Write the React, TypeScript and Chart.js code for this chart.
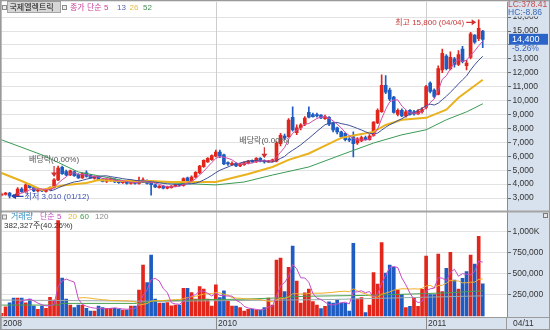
import React, { useEffect, useRef } from 'react';
import { Chart, registerables } from 'chart.js';

Chart.register(...registerables);

// ---------------- data ----------------
const START_DATE = '2008-12-29';
const FUTURE_SLOTS = 6;

const opens = [
  3200, 3250, 3350, 3200, 3150, 3650, 3450, 3950, 3750, 3500,
  3580, 3480, 3600, 3750, 4300, 5200, 4900, 4650, 4900, 4700,
  4450, 4800, 4650, 4400, 4500, 4350, 4200, 4250, 4350, 4200,
  4100, 4200, 4050, 4150, 4050, 4150, 4250, 4100, 3950, 3750,
  3850, 3700, 3750, 3850, 3950, 3900, 4450, 4250, 4500, 4800,
  5250, 5600, 5750, 6000, 6300, 6100, 5550, 5400, 5500, 5300,
  5400, 5500, 5700, 5600, 5850, 5700, 5600, 5650, 5650, 6900,
  7450, 7400, 8800, 7700, 8050, 8300, 9150, 9000, 9000, 8950,
  8700, 8800, 8400, 8050, 7750, 7650, 7250, 7400, 6950, 7100,
  7350, 7200, 7500, 8400, 9200, 11100, 10750, 10250, 9000, 9300,
  8900, 9300, 9200, 9050, 9200, 9500, 11250, 10750, 10450, 12200,
  13200, 12300, 13000, 12600, 13700, 12500, 13100, 14700, 14450, 15000,
];
const highs = [
  3350, 3400, 3400, 3250, 3750, 3750, 4050, 4000, 3800, 3650,
  3620, 3650, 3800, 4400, 5300, 5300, 5000, 5000, 4950, 4750,
  4800, 4950, 4700, 4600, 4550, 4400, 4400, 4450, 4400, 4250,
  4250, 4250, 4200, 4200, 4500, 4450, 4300, 4150, 4000, 3900,
  3900, 3850, 3900, 4000, 4000, 4450, 4500, 4600, 4900, 5350,
  5750, 5900, 6100, 6450, 6450, 6150, 5600, 5600, 5550, 5500,
  5600, 5700, 5750, 5900, 5900, 5750, 5700, 5800, 7050, 7650,
  7600, 8700, 9550, 8250, 8350, 8850, 9550, 9100, 9100, 9000,
  8950, 8850, 8450, 8100, 7800, 7700, 7350, 7750, 7350, 7450,
  7450, 7550, 8500, 9400, 11850, 11800, 10900, 10300, 9400, 9400,
  9300, 9350, 9300, 9350, 9500, 11100, 11350, 10850, 12500, 13700,
  13300, 13500, 13100, 13600, 13900, 12900, 14900, 14750, 15800, 15050,
];
const lows = [
  3150, 3200, 3010, 3050, 3100, 3400, 3400, 3700, 3450, 3450,
  3450, 3420, 3550, 3700, 4250, 4700, 4600, 4600, 4550, 4400,
  4400, 4500, 4400, 4350, 4250, 4150, 4100, 4200, 4100, 4050,
  4050, 4000, 4000, 4000, 4000, 4100, 4000, 3200, 3750, 3700,
  3650, 3650, 3700, 3800, 3850, 3850, 4200, 4200, 4450, 4750,
  5200, 5550, 5700, 5950, 5900, 5400, 5350, 5350, 5250, 5250,
  5350, 5450, 5550, 5550, 5600, 5500, 5550, 5600, 5600, 6750,
  7200, 7350, 7800, 7550, 7900, 8200, 8750, 8800, 8800, 8700,
  8650, 8200, 7750, 7600, 7300, 7100, 7050, 5950, 6850, 7050,
  7150, 7150, 7450, 8350, 9150, 10500, 10000, 9100, 8900, 8850,
  8800, 8950, 8950, 9000, 9100, 9400, 10550, 10200, 10400, 12000,
  12200, 12200, 12400, 12500, 12700, 12200, 13000, 14100, 14300, 13800,
];
const closes = [
  3280, 3350, 3150, 3120, 3650, 3450, 3950, 3750, 3500, 3580,
  3500, 3600, 3750, 4300, 5150, 4750, 4650, 4950, 4600, 4450,
  4750, 4550, 4450, 4550, 4300, 4200, 4350, 4400, 4150, 4100,
  4200, 4050, 4150, 4050, 4250, 4300, 4050, 3950, 3800, 3850,
  3700, 3800, 3850, 3950, 3900, 4400, 4250, 4500, 4850, 5300,
  5700, 5850, 6050, 6300, 6000, 5450, 5450, 5500, 5300, 5450,
  5550, 5650, 5600, 5850, 5650, 5600, 5650, 5750, 6950, 7500,
  7300, 8600, 7900, 8050, 8250, 8750, 8800, 8850, 8900, 8750,
  8850, 8300, 7900, 7750, 7400, 7200, 7150, 6900, 7250, 7350,
  7200, 7450, 8450, 9300, 11100, 10600, 10100, 9150, 9300, 8900,
  9200, 9000, 9050, 9250, 9350, 11000, 10650, 10300, 12300, 13400,
  12300, 13100, 12600, 13300, 12800, 12700, 14800, 14200, 15200, 14400,
];
const volumes = [
  32000, 110000, 158000, 214000, 214000, 214000, 158000, 200000, 117000, 79000,
  117000, 90000, 222000, 190000, 1135000, 450000, 200000, 130000, 100000, 130000,
  130000, 90000, 60000, 60000, 117000, 100000, 90000, 90000, 90000, 80000,
  70000, 70000, 117000, 117000, 310000, 607000, 397000, 726000, 200000, 155000,
  155000, 160000, 120000, 130000, 130000, 330000, 330000, 280000, 200000, 350000,
  320000, 200000, 117000, 370000, 220000, 300000, 180000, 117000, 117000, 100000,
  60000, 80000, 80000, 70000, 70000, 100000, 214000, 130000, 667000, 690000,
  290000, 580000, 833000, 417000, 155000, 277000, 321000, 172000, 131000, 88000,
  115000, 170000, 155000, 190000, 155000, 155000, 60000, 866000, 200000, 220000,
  40000, 131000, 517000, 380000, 873000, 510000, 607000, 580000, 310000, 255000,
  100000, 115000, 215000, 115000, 318000, 714000, 255000, 255000, 738000, 290000,
  567000, 758000, 429000, 321000, 448000, 528000, 726000, 619000, 949645, 382327,
];

// moving-average lines (they depend on history before the first candle)
const ma26Idx = [0, 5, 10, 13, 16, 21, 24, 29, 37, 42, 53, 61, 67, 71, 76, 84, 88, 92, 95, 99, 105, 110, 113, 119];
const ma26Val = [4800, 4220, 3580, 3800, 3940, 4080, 4300, 4220, 4220, 4150, 4150, 4730, 5230, 5740, 6200, 7320, 7540, 7750, 8250, 8620, 8760, 9340, 10200, 11500];
const ma52Idx = [0, 10, 19, 32, 42, 53, 60, 67, 76, 84, 92, 99, 105, 110, 115, 119];
const ma52Val = [7180, 6100, 4870, 4150, 4080, 3940, 4150, 4650, 5230, 6100, 6950, 7540, 7900, 8620, 9190, 9770];
const vma60Idx = [0, 14, 15, 34, 38, 50, 60, 68, 75, 90, 100, 110, 119];
const vma60Val = [130000, 130000, 150000, 150000, 180000, 195000, 200000, 215000, 235000, 245000, 260000, 275000, 300000];
const vma120Idx = [0, 40, 80, 119];
const vma120Val = [190000, 175000, 195000, 240000];

const exDividendDates = ['2009/03/30', '2010/03/29'];
const priceTicks = [3000, 4000, 5000, 6000, 7000, 8000, 9000, 10000, 11000, 12000, 13000, 14000, 15000, 16000];
const volumeTicks = [250000, 500000, 750000, 1000000];
const stockName = '국제엘렉트릭';
const lcText = 'LC:378.41';
const hcText = 'HC:-8.86';

// ---------------- helpers ----------------
const FONT = '"Liberation Sans", "Noto Sans CJK KR", sans-serif';
const UP = '#e2261c';
const DOWN = '#1f5cc2';
const AXIS_BG = '#d8e2ee';
const PRICE_MIN = 2066;
const PRICE_MAX = 17084;
const VOL_MIN = -11905;
const VOL_MAX = 1250000;

const pad2 = (n: number) => String(n).padStart(2, '0');
function weekLabels(): string[] {
  const t0 = Date.parse(START_DATE + 'T00:00:00Z');
  const out: string[] = [];
  for (let i = 0; i < closes.length + FUTURE_SLOTS; i++) {
    const d = new Date(t0 + i * 7 * 86400000);
    out.push(`${d.getUTCFullYear()}/${pad2(d.getUTCMonth() + 1)}/${pad2(d.getUTCDate())}`);
  }
  return out;
}
function sma(src: number[], n: number): (number | null)[] {
  return src.map((_, i) => {
    if (i < n - 1) return null;
    let s = 0;
    for (let k = i - n + 1; k <= i; k++) s += src[k];
    return s / n;
  });
}
const fmt = (v: number) => Math.round(v).toLocaleString('en-US');

function txt(ctx: CanvasRenderingContext2D, s: string, x: number, y: number, color: string, size = 8, align: CanvasTextAlign = 'left') {
  ctx.font = `${size}px ${FONT}`;
  ctx.fillStyle = color;
  ctx.textAlign = align;
  ctx.textBaseline = 'middle';
  ctx.fillText(s, x, y);
}
function legendSquare(ctx: CanvasRenderingContext2D, x: number, y: number) {
  ctx.fillStyle = '#8c8c8c';
  ctx.fillRect(x, y, 5, 5);
  ctx.fillStyle = '#ececec';
  ctx.fillRect(x + 1, y + 1, 3, 3);
}

export default function App() {
  const ref = useRef<HTMLCanvasElement>(null);

  useEffect(() => {
    document.body.style.margin = '0';
    const canvas = ref.current;
    if (!canvas) return;

    const labels = weekLabels();
    const n = closes.length;
    const candleColor = closes.map((c, i) => (c >= opens[i] ? UP : DOWN));
    const volColor = closes.map((c, i) => (i === 0 || c >= closes[i - 1] ? UP : DOWN));
    const knots = (idx: number[], val: number[]) => idx.map((k, j) => ({ x: labels[k], y: val[j] }));

    const hiIdx = highs.indexOf(Math.max(...highs));
    const loIdx = lows.indexOf(Math.min(...lows));
    const mmdd = (i: number) => labels[i].slice(5);
    const divIdx = exDividendDates.map((d) => labels.indexOf(d)).filter((i) => i >= 0);

    // year marks on the date strip
    const yearMarks: number[] = [];
    for (let i = 0; i < n; i++) {
      const y = labels[i].slice(0, 4);
      if (i === 0 || y !== labels[i - 1].slice(0, 4)) {
        const prev = yearMarks[yearMarks.length - 1];
        if (prev === undefined || i - prev >= 20) yearMarks.push(i);
      }
    }

    const line = (data: any[], color: string, width: number, axis: string) => ({
      type: 'line' as const,
      data,
      borderColor: color,
      borderWidth: width,
      pointRadius: 0,
      fill: false,
      tension: 0,
      spanGaps: true,
      yAxisID: axis,
      order: 0,
    });

    const deco = {
      id: 'deco',
      beforeDraw(chart: any) {
        const { ctx, chartArea: a, width, height } = chart;
        ctx.save();
        ctx.fillStyle = '#ffffff';
        ctx.fillRect(0, 0, width, height);
        ctx.fillStyle = AXIS_BG;
        ctx.fillRect(a.right, 0, width - a.right, height);
        ctx.fillRect(0, a.bottom, width, height - a.bottom);
        ctx.restore();
      },
      beforeDatasetsDraw(chart: any) {
        const { ctx, chartArea: a } = chart;
        const xs = chart.scales.x;
        ctx.save();
        ctx.strokeStyle = '#cdcdcd';
        ctx.lineWidth = 1;
        yearMarks.forEach((i) => {
          if (i === 0) return;
          const px = Math.round(xs.getPixelForValue(i)) + 0.5;
          ctx.beginPath();
          ctx.moveTo(px, a.top);
          ctx.lineTo(px, a.bottom);
          ctx.stroke();
        });
        ctx.restore();
      },
      afterDraw(chart: any) {
        const { ctx, chartArea: a, width, height } = chart;
        const xs = chart.scales.x;
        const ys = chart.scales.y;
        const yv = chart.scales.yv;
        ctx.save();

        // panel separator
        ctx.fillStyle = '#a4a4a4';
        ctx.fillRect(0, yv.top - 0.5, width, 2);
        // bottom strip
        ctx.fillStyle = '#9a9a9a';
        ctx.fillRect(0, a.bottom, width, 1);
        ctx.fillRect(a.right - 1, a.bottom, 1, height - a.bottom);
        ctx.strokeStyle = '#8a8a8a';
        yearMarks.forEach((i) => {
          const px = Math.round(xs.getPixelForValue(i)) + 0.5;
          if (i !== 0) {
            ctx.beginPath();
            ctx.moveTo(px, a.bottom);
            ctx.lineTo(px, height);
            ctx.stroke();
          }
          txt(ctx, labels[i].slice(0, 4), i === 0 ? 3 : px + 1.5, a.bottom + 7, '#333', 8.5);
        });
        txt(ctx, mmdd(n - 1), a.right + 6, a.bottom + 7, '#333', 8.5);

        // legend (price)
        legendSquare(ctx, 2, 5);
        ctx.fillStyle = '#d6d6d6';
        ctx.fillRect(7.5, 1.5, 53, 11);
        ctx.strokeStyle = '#a6a6a6';
        ctx.strokeRect(7.5, 1.5, 53, 11);
        txt(ctx, stockName, 9.5, 7.5, '#111', 8);
        legendSquare(ctx, 62, 5);
        txt(ctx, '종가 단순 5', 70, 7.5, '#c8409c', 8);
        txt(ctx, '13', 117, 7.5, '#5664a8', 8);
        txt(ctx, '26', 129.5, 7.5, '#e2bd45', 8);
        txt(ctx, '52', 143, 7.5, '#3f9050', 8);

        // legend (volume)
        const ly = yv.top + 6;
        legendSquare(ctx, 2, ly - 2.5);
        txt(ctx, '거래량', 11, ly, '#2f8cc0', 8);
        txt(ctx, '단순 5', 40, ly, '#c04cc0', 8);
        txt(ctx, '20', 68, ly, '#e8b830', 8);
        txt(ctx, '60', 80, ly, '#3c9a4c', 8);
        txt(ctx, '120', 95, ly, '#8a8a8a', 8);
        const lastVol = volumes[n - 1];
        const ratio = (lastVol / volumes[n - 2]) * 100;
        txt(ctx, `${fmt(lastVol)}주(${ratio.toFixed(2)}%)`, 4, ly + 9, '#333', 8);

        // icon
        ctx.fillStyle = '#7a7a7a';
        ctx.fillRect(width - 7, yv.top + 2, 5, 5);
        ctx.fillStyle = '#e6e6e6';
        ctx.fillRect(width - 6, yv.top + 3, 3, 3);

        // highest
        const hx = xs.getPixelForValue(hiIdx) - 2.5;
        const hy = ys.getPixelForValue(highs[hiIdx]) + 2.5;
        ctx.strokeStyle = '#d03030';
        ctx.fillStyle = '#d03030';
        ctx.lineWidth = 1.2;
        ctx.beginPath();
        ctx.moveTo(hx - 10, hy);
        ctx.lineTo(hx - 3, hy);
        ctx.stroke();
        ctx.beginPath();
        ctx.moveTo(hx, hy);
        ctx.lineTo(hx - 4.5, hy - 3);
        ctx.lineTo(hx - 4.5, hy + 3);
        ctx.closePath();
        ctx.fill();
        txt(ctx, `최고 ${fmt(highs[hiIdx])} (${mmdd(hiIdx)})`, hx - 12, hy, '#c83838', 8, 'right');

        // lowest
        const lx = xs.getPixelForValue(loIdx) + 2;
        const lyy = ys.getPixelForValue(lows[loIdx]) - 1.5;
        ctx.strokeStyle = '#2a3fa8';
        ctx.fillStyle = '#2a3fa8';
        ctx.beginPath();
        ctx.moveTo(lx + 3, lyy);
        ctx.lineTo(lx + 12, lyy);
        ctx.stroke();
        ctx.beginPath();
        ctx.moveTo(lx, lyy);
        ctx.lineTo(lx + 4.5, lyy - 3);
        ctx.lineTo(lx + 4.5, lyy + 3);
        ctx.closePath();
        ctx.fill();
        txt(ctx, `최저 ${fmt(lows[loIdx])} (${mmdd(loIdx)})`, lx + 13, lyy, '#3a4fb0', 8);

        // ex-dividend markers
        divIdx.forEach((i) => {
          const ax = xs.getPixelForValue(i);
          const tip = ys.getPixelForValue(highs[i]) - 1.5;
          ctx.strokeStyle = '#d03030';
          ctx.fillStyle = '#d03030';
          ctx.lineWidth = 1.2;
          ctx.beginPath();
          ctx.moveTo(ax, tip - 11);
          ctx.lineTo(ax, tip - 4);
          ctx.stroke();
          ctx.beginPath();
          ctx.moveTo(ax, tip);
          ctx.lineTo(ax - 3, tip - 4.5);
          ctx.lineTo(ax + 3, tip - 4.5);
          ctx.closePath();
          ctx.fill();
          txt(ctx, '배당락(0.00%)', ax, tip - 17, '#555', 8, 'center');
        });

        // right axis info
        ctx.fillStyle = AXIS_BG;
        ctx.fillRect(a.right + 1, 0, width - a.right - 1, 16.5);
        txt(ctx, lcText, a.right + 1, 5, '#c84848', 8.5);
        txt(ctx, hcText, a.right + 1, 13, '#3a6ab4', 8.5);
        const last = closes[n - 1];
        const py = ys.getPixelForValue(last);
        ctx.fillStyle = '#2a64c8';
        ctx.fillRect(a.right + 2, py - 5.5, width - a.right - 4, 11);
        txt(ctx, fmt(last), a.right + 5, py, '#ffffff', 9);
        ctx.fillStyle = AXIS_BG;
        ctx.fillRect(a.right + 1, py + 5.5, width - a.right - 2, 8.5);
        const chg = ((last / closes[n - 2]) - 1) * 100;
        txt(ctx, `${chg.toFixed(2)}%`, a.right + 5, py + 9.5, '#3a66b8', 8.5);

        // frame
        ctx.fillStyle = '#7a7a7a';
        ctx.fillRect(0, 0, 1.5, height);
        ctx.fillRect(0, 0, width, 1.2);
        ctx.strokeStyle = '#9a9a9a';
        ctx.lineWidth = 1;
        ctx.strokeRect(0.5, 0.5, width - 1, height - 1);
        ctx.restore();
      },
    };

    const yAxis = (weight: number, min: number, max: number, ticks: number[], label: (v: number) => string) => ({
      type: 'linear',
      position: 'right',
      stack: 'panes',
      stackWeight: weight,
      min,
      max,
      afterBuildTicks: (s: any) => {
        s.ticks = ticks.map((v) => ({ value: v }));
      },
      afterFit: (s: any) => {
        s.width = 43;
        s.paddingTop = 0;
        s.paddingBottom = 0;
      },
      grid: { color: '#e2e2e2', tickColor: '#6a6a6a', tickLength: 4 },
      border: { color: '#8c8c8c' },
      ticks: {
        autoSkip: false,
        font: { family: FONT, size: 8.5 },
        color: '#333',
        padding: 1.5,
        callback: (v: any) => label(Number(v)),
      },
    });

    const chart = new Chart(canvas, {
      type: 'bar',
      data: {
        labels,
        datasets: [
          line(sma(closes, 5), '#d04ea8', 1, 'y'),
          line(sma(closes, 13), '#3e4f99', 1, 'y'),
          line(knots(ma26Idx, ma26Val), '#e9b21e', 2, 'y'),
          line(knots(ma52Idx, ma52Val), '#3c9a55', 1, 'y'),
          {
            type: 'bar',
            data: opens.map((o, i) => [o, closes[i]]),
            backgroundColor: candleColor,
            barThickness: 3,
            minBarLength: 1,
            grouped: false,
            yAxisID: 'y',
            order: 1,
          },
          {
            type: 'bar',
            data: lows.map((l, i) => [l, highs[i]]),
            backgroundColor: candleColor,
            barThickness: 1,
            grouped: false,
            yAxisID: 'y',
            order: 2,
          },
          {
            type: 'bar',
            data: volumes,
            backgroundColor: volColor,
            barThickness: 3,
            grouped: false,
            yAxisID: 'yv',
            order: 3,
          },
          line(sma(volumes, 5), '#c84cc8', 1, 'yv'),
          line(sma(volumes, 20), '#f0b02a', 1, 'yv'),
          line(knots(vma60Idx, vma60Val), '#4aa050', 1, 'yv'),
          line(knots(vma120Idx, vma120Val), '#9aa8a8', 1, 'yv'),
        ] as any,
      },
      options: {
        animation: false,
        responsive: false,
        devicePixelRatio: 1,
        events: [],
        layout: { padding: { left: 1.5, top: 2, right: 0, bottom: 0 } },
        plugins: { legend: { display: false }, tooltip: { enabled: false } },
        scales: {
          x: {
            type: 'category',
            offset: false,
            grid: { display: false },
            border: { display: false },
            ticks: { display: false },
            afterFit: (s: any) => {
              s.height = 13;
              s.paddingLeft = 0;
              s.paddingRight = 0;
            },
          },
          y: yAxis(209, PRICE_MIN, PRICE_MAX, priceTicks, (v) => fmt(v)),
          yv: yAxis(106, VOL_MIN, VOL_MAX, volumeTicks, (v) => (v >= 1000000 ? `${fmt(v / 1000)}K` : fmt(v))),
        } as any,
      },
      plugins: [deco],
    });

    return () => chart.destroy();
  }, []);

  return <canvas ref={ref} width={550} height={330} style={{ display: 'block', width: 550, height: 330 }} />;
}
